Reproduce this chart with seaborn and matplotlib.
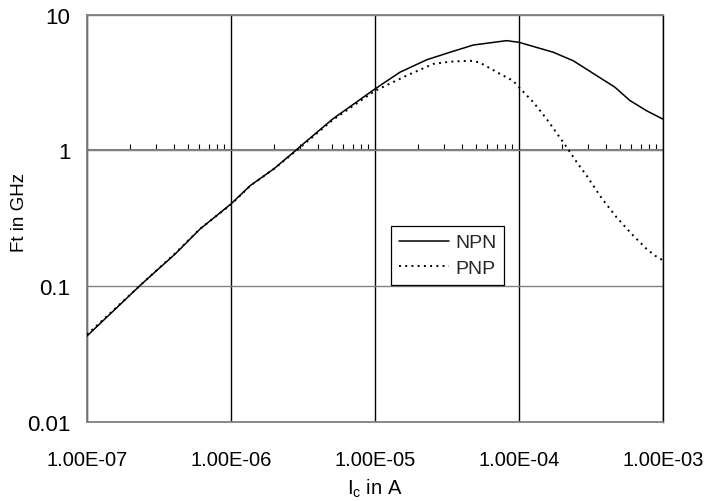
import numpy as np
import pandas as pd
import matplotlib
matplotlib.use("Agg")
import matplotlib.pyplot as plt
import matplotlib.ticker as mticker
import seaborn as sns

# ---- data ----
ic_npn = [1.0e-7, 2.4e-7, 4.1e-7, 6.1e-7, 1.0e-6, 1.36e-6, 1.98e-6, 2.72e-6, 3.37e-6,
          5.1e-6, 1.0e-5, 1.49e-5, 2.29e-5, 3.32e-5, 4.82e-5, 8.2e-5, 1.0e-4, 1.73e-4,
          2.38e-4, 3.46e-4, 4.64e-4, 5.9e-4, 7.7e-4, 1.0e-3]
ft_npn = [0.043, 0.104, 0.173, 0.264, 0.404, 0.551, 0.731, 0.97, 1.18,
          1.71, 2.84, 3.77, 4.66, 5.29, 5.98, 6.44, 6.26, 5.29,
          4.58, 3.56, 2.92, 2.33, 1.96, 1.70]

ic_pnp = [1.0e-7, 2.4e-7, 4.1e-7, 6.1e-7, 1.0e-6, 1.36e-6, 1.98e-6, 2.72e-6, 3.37e-6,
          5.1e-6, 1.0e-5, 1.66e-5, 2.54e-5, 3.32e-5, 4.57e-5, 5.3e-5, 7.4e-5, 9.1e-5,
          1.0e-4, 1.26e-4, 1.56e-4, 2.14e-4, 2.52e-4, 2.95e-4, 3.75e-4, 4.76e-4,
          6.05e-4, 7.7e-4, 8.8e-4, 1.0e-3]
ft_pnp = [0.044, 0.104, 0.175, 0.265, 0.40, 0.55, 0.73, 0.96, 1.16,
          1.68, 2.75, 3.56, 4.34, 4.51, 4.58, 4.46, 3.66, 3.26,
          2.92, 2.26, 1.70, 1.06, 0.819, 0.652, 0.445, 0.322,
          0.243, 0.188, 0.168, 0.155]

x_ticks = [1e-7, 1e-6, 1e-5, 1e-4, 1e-3]
y_ticks = [0.01, 0.1, 1, 10]
y_tick_labels = ["0.01", "0.1", "1", "10"]
series_names = ["NPN", "PNP"]

sns.set_theme(style="white")
plt.rcParams["font.family"] = ["Liberation Sans", "DejaVu Sans"]
plt.rcParams["mathtext.fontset"] = "custom"
plt.rcParams["mathtext.rm"] = "Liberation Sans"
plt.rcParams["mathtext.it"] = "Liberation Sans"

fig = plt.figure(figsize=(7.1, 5.02), dpi=100)
ax = fig.add_axes([87 / 710, 1 - 423 / 502, (663 - 87) / 710, (423 - 15.7) / 502])

df_npn = pd.DataFrame({"Ic": ic_npn, "Ft": ft_npn})
df_pnp = pd.DataFrame({"Ic": ic_pnp, "Ft": ft_pnp})

sns.lineplot(data=df_npn, x="Ic", y="Ft", ax=ax, color="black", lw=1.1,
             label=series_names[0], zorder=5)
sns.lineplot(data=df_pnp, x="Ic", y="Ft", ax=ax, color="black", lw=1.4,
             linestyle=(0, (1, 2.2)), label=series_names[1], zorder=5)

ax.set_xscale("log")
ax.set_yscale("log")
ax.set_xlim(x_ticks[0], x_ticks[-1])
ax.set_ylim(y_ticks[0], y_ticks[-1])

ax.xaxis.set_major_locator(mticker.FixedLocator(x_ticks))
ax.xaxis.set_major_formatter(mticker.FuncFormatter(lambda v, p: f"{v:.2E}"))
ax.xaxis.set_minor_locator(mticker.NullLocator())
ax.yaxis.set_major_locator(mticker.FixedLocator(y_ticks))
ax.yaxis.set_major_formatter(mticker.FixedFormatter(y_tick_labels))
ax.yaxis.set_minor_locator(mticker.NullLocator())

ax.tick_params(axis="x", which="major", length=0, pad=20, labelsize=14.5, colors="black")
ax.tick_params(axis="y", which="major", length=0, pad=12, labelsize=16, colors="black")

ax.xaxis.grid(True, color="black", lw=1.0)
ax.yaxis.grid(True, color="#808080", lw=1.0)
ax.set_axisbelow(True)

for side in ["top", "left", "bottom"]:
    ax.spines[side].set_color("#808080")
    ax.spines[side].set_linewidth(1.3)
ax.spines["right"].set_color("black")
ax.spines["right"].set_linewidth(1.0)

ax.set_xlabel(r"$\mathregular{I_c}$ in A", fontsize=14.5, labelpad=6, color="black")
ax.set_ylabel("Ft in GHz", fontsize=13.5, color="black")
ax.yaxis.set_label_coords((28 - 87) / 576, (423 - 213) / 407.3)

# horizontal axis crossing at y = 1 with minor ticks pointing up
sec = ax.secondary_xaxis(1, transform=ax.transData)
sec.spines["top"].set_color("#808080")
sec.spines["top"].set_linewidth(1.5)
sec.tick_params(axis="x", which="major", length=0, labeltop=False, labelbottom=False)
sec.tick_params(axis="x", which="minor", length=4.5, width=0.8, color="black",
                direction="out", labeltop=False, labelbottom=False)

leg = ax.legend(loc="upper left", bbox_to_anchor=(391 / 710, 1 - 227 / 502),
                bbox_transform=fig.transFigure, borderaxespad=0, fontsize=14,
                frameon=True, fancybox=False, edgecolor="black", framealpha=1,
                handlelength=2.6, handletextpad=0.3, labelspacing=0.4,
                borderpad=0.4)
leg.get_frame().set_linewidth(0.9)
leg.set_zorder(10)

fig.savefig("out.png", dpi=100)
